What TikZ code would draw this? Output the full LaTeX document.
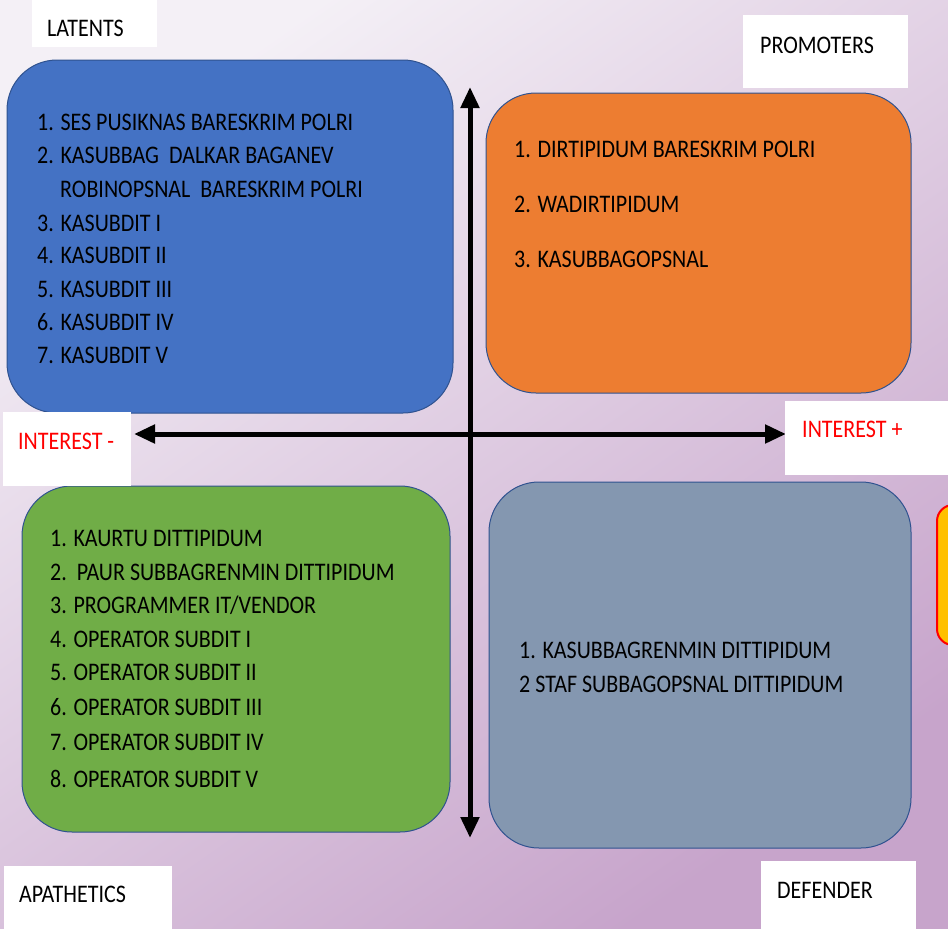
\documentclass[tikz,border=0pt]{standalone}
\usepackage{fontspec}
\setmainfont{Carlito}
\usetikzlibrary{arrows.meta}
\definecolor{bgA}{HTML}{F4F0F6}
\definecolor{bgB}{HTML}{C7A4CB}
\definecolor{qblue}{HTML}{4472C4}
\definecolor{qorange}{HTML}{ED7D31}
\definecolor{qgreen}{HTML}{70AD47}
\definecolor{qgray}{HTML}{8497B0}
\definecolor{qline}{HTML}{2F528F}
\definecolor{qyellow}{HTML}{FFC000}
\newcommand{\txt}[1]{\scalebox{1}[1.15]{#1}}
\tikzset{
  quad/.style={draw=qline, line width=1pt, rounded corners=50pt, inner sep=0pt, outer sep=0pt},
  item/.style={anchor=base west, inner sep=0pt, font=\fontsize{22}{26}\selectfont, text=black},
  labbox/.style={fill=white, inner sep=0pt, outer sep=0pt},
  labtxt/.style={anchor=base west, inner sep=0pt, font=\fontsize{22}{26}\selectfont, text=black},
  redtxt/.style={labtxt, text=red},
  axisarrow/.style={line width=5pt, {Triangle[length=21pt,width=18pt]}-{Triangle[length=21pt,width=18pt]}}
}
\begin{document}
\begin{tikzpicture}[x=1pt,y=-1pt]
\useasboundingbox (0,0) rectangle (948,929);
\shade[top color=bgA, bottom color=bgB, shading angle=35] (0,0) rectangle (948,929);

% quadrant boxes
\node[quad, fill=qblue, minimum width=446pt, minimum height=353pt] (latent) at (230,236.5) {};
\node[quad, fill=qorange, minimum width=425pt, minimum height=300pt] (promo) at (698.5,243) {};
\node[quad, fill=qgreen, minimum width=428pt, minimum height=346pt] (apath) at (236,659) {};
\node[quad, fill=qgray, minimum width=422pt, minimum height=366pt] (defend) at (700,665) {};

% partial yellow shape at right edge
\begin{scope}
\clip (0,0) rectangle (948,929);
\node[draw=red, line width=2pt, fill=qyellow, rounded corners=16pt, minimum width=70pt, minimum height=140pt, inner sep=0pt] (side) at (972,575) {};
\end{scope}

% axes
\coordinate (vtop) at (470,87);
\coordinate (vbot) at (470,838);
\coordinate (hleft) at (134,434);
\coordinate (hright) at (786,434);
\draw[axisarrow] (vbot) -- (vtop);
\draw[axisarrow] (hleft) -- (hright);

% label boxes
\node[labbox, minimum width=125pt, minimum height=48pt] (latbox) at (94.5,23) {};
\node[labtxt] (lattxt) at (47,36) {\txt{LATENTS}};
\node[labbox, minimum width=165pt, minimum height=73pt] (probox) at (825.5,51.5) {};
\node[labtxt] (protxt) at (760,53) {\txt{PROMOTERS}};
\node[labbox, minimum width=128pt, minimum height=74pt] (imbox) at (67,449) {};
\node[redtxt] (imtxt) at (18,449) {\txt{INTEREST -}};
\node[labbox, minimum width=165pt, minimum height=74pt] (ipbox) at (867.5,438) {};
\node[redtxt] (iptxt) at (802,437) {\txt{INTEREST +}};
\node[labbox, minimum width=168pt, minimum height=64pt] (apbox) at (88,898) {};
\node[labtxt] (aptxt) at (19,902) {\txt{APATHETICS}};
\node[labbox, minimum width=155pt, minimum height=69pt] (defbox) at (838.5,895.5) {};
\node[labtxt] (deftxt) at (777,898) {\txt{DEFENDER}};

% latents list
\node[item] (l1) at (37,130) {\txt{1. SES PUSIKNAS BARESKRIM POLRI}};
\node[item] (l2) at (37,163) {\txt{2. KASUBBAG\ \ DALKAR BAGANEV}};
\node[item] (l2b) at (60,197) {\txt{ROBINOPSNAL\ \ BARESKRIM POLRI}};
\node[item] (l3) at (37,231) {\txt{3. KASUBDIT I}};
\node[item] (l4) at (37,263) {\txt{4. KASUBDIT II}};
\node[item] (l5) at (37,297) {\txt{5. KASUBDIT III}};
\node[item] (l6) at (37,330) {\txt{6. KASUBDIT IV}};
\node[item] (l7) at (37,363) {\txt{7. KASUBDIT V}};

% promoters list
\node[item] (p1) at (514,157) {\txt{1. DIRTIPIDUM BARESKRIM POLRI}};
\node[item] (p2) at (514,212) {\txt{2. WADIRTIPIDUM}};
\node[item] (p3) at (514,267) {\txt{3. KASUBBAGOPSNAL}};

% apathetics list
\node[item] (a1) at (50,546) {\txt{1. KAURTU DITTIPIDUM}};
\node[item] (a2) at (50,580) {\txt{2.\ \ PAUR SUBBAGRENMIN DITTIPIDUM}};
\node[item] (a3) at (50,613) {\txt{3. PROGRAMMER IT/VENDOR}};
\node[item] (a4) at (50,647) {\txt{4. OPERATOR SUBDIT I}};
\node[item] (a5) at (50,680) {\txt{5. OPERATOR SUBDIT II}};
\node[item] (a6) at (50,715) {\txt{6. OPERATOR SUBDIT III}};
\node[item] (a7) at (50,750) {\txt{7. OPERATOR SUBDIT IV}};
\node[item] (a8) at (50,787) {\txt{8. OPERATOR SUBDIT V}};

% defender list
\node[item] (d1) at (519,658) {\txt{1. KASUBBAGRENMIN DITTIPIDUM}};
\node[item] (d2) at (519,692) {\txt{2 STAF SUBBAGOPSNAL DITTIPIDUM}};
\end{tikzpicture}
\end{document}
